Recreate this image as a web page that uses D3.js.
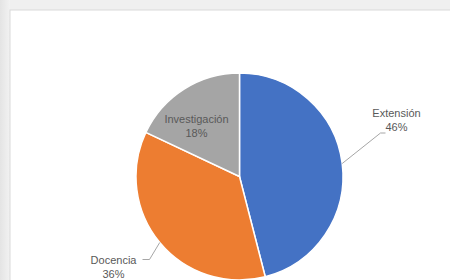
<!DOCTYPE html>
<html>
<head>
<meta charset="utf-8">
<script src="https://cdn.jsdelivr.net/npm/d3@7"></script>
<style>
body { margin: 0; background: #f0f0f0; }
svg text { font-family: "Liberation Sans Narrow", "Liberation Sans", sans-serif; font-size: 11px; fill: #595959; }
</style>
</head>
<body>
<div id="chart"></div>
<script>
// datos del grafico
var categories = ["Extensión", "Docencia", "Investigación"];
var values = [46, 36, 18];
var colors = ["#4472C4", "#ED7D31", "#A5A5A5"];

var width = 450, height = 280;
var cx = 239.5, cy = 176.5, radius = 103.5;

var svg = d3.select("#chart").append("svg")
    .attr("width", width).attr("height", height);

// fondo gris con el marco blanco del grafico
var grad = svg.append("defs").append("linearGradient").attr("id", "edge")
    .attr("x1", 0).attr("x2", 1).attr("y1", 0).attr("y2", 0);
grad.append("stop").attr("offset", "0%").attr("stop-color", "#e4e4e4");
grad.append("stop").attr("offset", "100%").attr("stop-color", "#f2f2f2");
svg.append("rect").attr("width", width).attr("height", height).attr("fill", "#f0f0f0");
svg.append("rect").attr("width", 10).attr("height", height).attr("fill", "url(#edge)");
svg.append("rect").attr("x", 10).attr("y", 10).attr("width", width).attr("height", height)
    .attr("fill", "#ffffff").attr("stroke", "#d9d9d9").attr("stroke-width", 1);

var data = categories.map(function(c, i) { return {name: c, value: values[i], color: colors[i]}; });

var pie = d3.pie().value(function(d) { return d.value; }).sort(null);
var arc = d3.arc().innerRadius(0).outerRadius(radius);
var arcs = pie(data);

var g = svg.append("g").attr("transform", "translate(" + cx + "," + cy + ")");

g.selectAll("path")
.data(arcs)
.enter().append("path")
.attr("d", arc)
.attr("fill", function(d) { return d.data.color; })
.attr("stroke", "#ffffff")
.attr("stroke-width", 1.5);

// etiquetas: posicion relativa al centro
var labelPos = [
    {x: 157, y: -60},
    {x: -126, y: 87},
    {x: -43, y: -54}
];

// lineas guia
function edgePoint(d) {
    var a = (d.startAngle + d.endAngle) / 2;
    return [Math.sin(a) * radius, -Math.cos(a) * radius];
}
var leaders = [
    [edgePoint(arcs[0]), [141, -43.5], [146, -43.5]],
    [edgePoint(arcs[1]), [-90, 83], [-97, 83]]
];
g.selectAll("polyline")
.data(leaders)
.enter().append("polyline")
.attr("points", function(p) { return p.map(function(q) { return q.join(","); }).join(" "); })
.attr("fill", "none")
.attr("stroke", "#a6a6a6")
.attr("stroke-width", 1);

var labels = g.selectAll("text.lbl")
.data(arcs)
.enter().append("text")
.attr("class", "lbl")
.attr("text-anchor", "middle")
.attr("x", function(d, i) { return labelPos[i].x; })
.attr("y", function(d, i) { return labelPos[i].y; });

labels.append("tspan")
.attr("x", function(d, i) { return labelPos[i].x; })
.text(function(d) { return d.data.name; });
labels.append("tspan")
.attr("x", function(d, i) { return labelPos[i].x; })
.attr("dy", 14)
.text(function(d) { return d.data.value + "%"; });
</script>
</body>
</html>
